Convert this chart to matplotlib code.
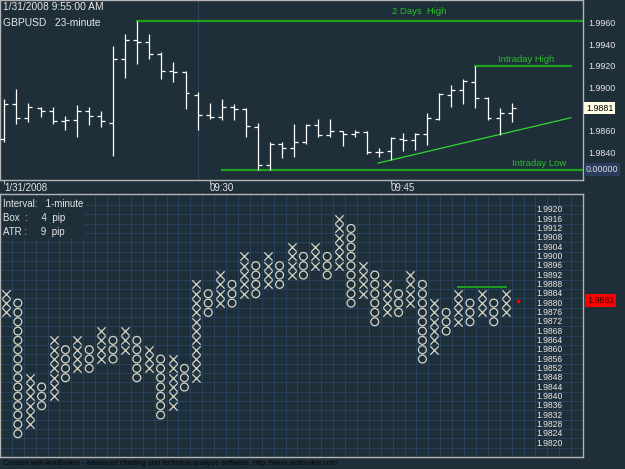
import matplotlib
matplotlib.use("Agg")
import matplotlib.pyplot as plt
import matplotlib.transforms as mtransforms
import numpy as np

plt.rcParams['font.family'] = ['Liberation Sans', 'DejaVu Sans']

# ---- top pane: GBPUSD bars ----
opens  = [1.9852, 1.9885, 1.9872, 1.9881, 1.9878, 1.9869, 1.9870, 1.9878, 1.9874, 1.9867,
          1.9926, 1.9944, 1.9942, 1.9931, 1.9915, 1.9914, 1.9893, 1.9875, 1.9873, 1.9882,
          1.9880, 1.9863, 1.9828, 1.9848, 1.9844, 1.9850, 1.9865, 1.9856, 1.9860, 1.9857,
          1.9859, 1.9840, 1.9841, 1.9852, 1.9851, 1.9857, 1.9871, 1.9893, 1.9898, 1.9905,
          1.9890, 1.9872, 1.9876]
highs  = [1.9889, 1.9899, 1.9886, 1.9882, 1.9882, 1.9874, 1.9884, 1.9882, 1.9878, 1.9938,
          1.9950, 1.9962, 1.9950, 1.9933, 1.9924, 1.9915, 1.9896, 1.9886, 1.9889, 1.9885,
          1.9881, 1.9867, 1.9850, 1.9850, 1.9866, 1.9866, 1.9871, 1.9871, 1.9860, 1.9861,
          1.9860, 1.9844, 1.9854, 1.9858, 1.9858, 1.9876, 1.9895, 1.9902, 1.9908, 1.9920,
          1.9891, 1.9881, 1.9886]
lows   = [1.9850, 1.9866, 1.9868, 1.9873, 1.9866, 1.9861, 1.9854, 1.9865, 1.9863, 1.9837,
          1.9909, 1.9922, 1.9926, 1.9908, 1.9905, 1.9880, 1.9861, 1.9871, 1.9870, 1.9870,
          1.9854, 1.9824, 1.9824, 1.9835, 1.9836, 1.9848, 1.9854, 1.9854, 1.9846, 1.9854,
          1.9838, 1.9836, 1.9833, 1.9841, 1.9842, 1.9847, 1.9870, 1.9882, 1.9885, 1.9881,
          1.9870, 1.9856, 1.9868]
closes = [1.9885, 1.9872, 1.9882, 1.9878, 1.9869, 1.9870, 1.9878, 1.9874, 1.9869, 1.9926,
          1.9944, 1.9942, 1.9931, 1.9915, 1.9914, 1.9895, 1.9875, 1.9873, 1.9882, 1.9880,
          1.9864, 1.9828, 1.9848, 1.9844, 1.9850, 1.9865, 1.9856, 1.9860, 1.9857, 1.9859,
          1.9840, 1.9840, 1.9853, 1.9851, 1.9857, 1.9872, 1.9894, 1.9898, 1.9906, 1.9890,
          1.9872, 1.9876, 1.9881]

time_ticks = [0, 17, 32]
time_labels = ["1/31/2008", "09:30", "09:45"]
price_ticks = [1.9960, 1.9940, 1.9920, 1.9900, 1.9860, 1.9840]

two_day_high = 1.9962       # from bar 11
intraday_high = 1.9920      # from bar 39
intraday_low = 1.9824       # from bar 18
trend_x = [30.94, 46.9]
trend_y = [1.9830, 1.9872]

# ---- bottom pane: point & figure, 4 pip box ----
box = 0.0004
pf_types = "XOXOXOXOXOXOXOXOXOXOXOXOXOXOXOXOXOXOXOXOXOX"
pf_high = [1.9884, 1.9880, 1.9848, 1.9844, 1.9864, 1.9860, 1.9864, 1.9860, 1.9868, 1.9864,
           1.9868, 1.9864, 1.9860, 1.9856, 1.9856, 1.9852, 1.9888, 1.9884, 1.9892, 1.9888,
           1.9900, 1.9896, 1.9900, 1.9896, 1.9904, 1.9900, 1.9904, 1.9900, 1.9916, 1.9912,
           1.9896, 1.9892, 1.9888, 1.9884, 1.9892, 1.9888, 1.9880, 1.9876, 1.9884, 1.9880,
           1.9884, 1.9880, 1.9884]
pf_low  = [1.9876, 1.9824, 1.9828, 1.9836, 1.9840, 1.9848, 1.9852, 1.9852, 1.9856, 1.9856,
           1.9860, 1.9848, 1.9852, 1.9832, 1.9836, 1.9844, 1.9848, 1.9876, 1.9880, 1.9880,
           1.9884, 1.9884, 1.9888, 1.9888, 1.9892, 1.9892, 1.9896, 1.9892, 1.9896, 1.9880,
           1.9884, 1.9872, 1.9876, 1.9876, 1.9880, 1.9856, 1.9860, 1.9868, 1.9872, 1.9872,
           1.9876, 1.9872, 1.9876]
pf_levels = [1.9920 - box * k for k in range(26)]
pf_resist = 1.9887          # short line over last columns 38..42
last_price = 1.9881

bg = '#1f2f3a'
frame = '#b4b4b4'
txt = '#e6e6e6'
green = '#1fa01f'
W, H = 625, 469

fig = plt.figure(figsize=(W / 100, H / 100), dpi=100, facecolor=bg)

def fx(x):
    return x / W

def fy(y):
    return 1 - y / H

# ---------------- top pane ----------------
ax = fig.add_axes([0, fy(180), fx(583), 180 / H])
ax.set_facecolor(bg)
n = len(closes)
xs = np.arange(n)
ax.set_xlim(-4.3 / 12.08, (583 - 4.3) / 12.08)
ax.set_ylim(1.9960 - (180 - 22.7) / 21.6 * 0.002, 1.9960 + 22.7 / 21.6 * 0.002)

ax.axvline(16, color='#2c4560', lw=0.8, zorder=1)
ax.vlines(xs, lows, highs, color='white', lw=0.9, zorder=3)
ax.hlines(opens, xs - 0.33, xs, color='white', lw=0.9, zorder=3)
ax.hlines(closes, xs, xs + 0.33, color='white', lw=0.9, zorder=3)

ax.plot([11, 48], [two_day_high] * 2, color=green, lw=1.6, zorder=2)
ax.plot([39, 46.9], [intraday_high] * 2, color=green, lw=1.6, zorder=2)
ax.plot([18, 48], [intraday_low] * 2, color=green, lw=1.6, zorder=2)
ax.plot(trend_x, trend_y, color='#2fd82f', lw=0.9, zorder=2)

def bar_x(px):
    return (px - 4.3) / 12.08

ax.text(bar_x(419), 1.99705, "2 Days  High", color='#27c027', fontsize=6.8, ha='center', va='center')
ax.text(bar_x(526), 1.99255, "Intraday High", color='#27c027', fontsize=6.8, ha='center', va='center')
ax.text(bar_x(539), 1.98295, "Intraday Low", color='#27c027', fontsize=6.8, ha='center', va='center')

ax.yaxis.tick_right()
ax.set_yticks(price_ticks)
ax.set_yticklabels(["%.4f" % v for v in price_ticks])
ax.tick_params(axis='y', length=0, pad=4, labelsize=6.4, labelcolor=txt)
ax.set_xticks(time_ticks)
ax.set_xticklabels(time_labels)
ax.tick_params(axis='x', direction='out', length=3, width=0.8, color=frame,
               pad=-1, labelsize=7, labelcolor=txt)
for lab in ax.get_xticklabels():
    lab.set_ha('left')

blend = mtransforms.blended_transform_factory(ax.transAxes, ax.transData)
ax.text(586 / 583, closes[-1], "%.4f" % closes[-1], transform=blend, fontsize=6.4,
        color='black', va='center', ha='left', clip_on=False,
        bbox=dict(boxstyle='square,pad=0.2', fc='#ffffe6', ec='none'))
ax.text(586 / 583, intraday_low, "0.00000", transform=blend, fontsize=6.4,
        color='#dcdcdc', va='center', ha='left', clip_on=False,
        bbox=dict(boxstyle='square,pad=0.2', fc='#2b3d5e', ec='none'))

for s in ax.spines.values():
    s.set_color(frame)
    s.set_linewidth(1)

fig.text(fx(3), fy(7), "1/31/2008 9:55:00 AM", color=txt, fontsize=7.4, va='center')
fig.text(fx(3), fy(23), "GBPUSD   23-minute", color=txt, fontsize=7.4, va='center')

# ---------------- bottom pane ----------------
bx = fig.add_axes([0, fy(457), fx(583), (457 - 194) / H])
bx.set_facecolor(bg)
bx.set_xlim(-3.5 / 12.08, (583 - 3.5) / 12.08)
bx.set_ylim(1.9920 - 26.08 * box, 1.9920 + 1.69 * box)

bx.set_xticks(np.arange(-0.5, 49, 1), minor=True)
bx.set_yticks(np.arange(1.9920 + box / 2, 1.9810, -box), minor=True)
bx.set_xticks([])
bx.set_yticks([])
bx.grid(which='minor', color='#28425e', lw=0.7)
bx.tick_params(which='both', length=0)

mark = '#d6d6c4'
for k, (t, hi, lo) in enumerate(zip(pf_types, pf_high, pf_low)):
    nb = int(round((hi - lo) / box)) + 1
    vals = hi - box * np.arange(nb)
    if t == 'X':
        bx.scatter([k] * nb, vals, marker='x', s=36, color=mark, lw=0.9, zorder=3)
    else:
        bx.scatter([k] * nb, vals, marker='o', s=32, facecolors='none',
                   edgecolors=mark, lw=0.9, zorder=3)

bx.plot([38, 42], [pf_resist] * 2, color=green, lw=1.4, zorder=3)
bx.scatter([43], [last_price], marker='s', s=3, color='red', zorder=3)

bblend = mtransforms.blended_transform_factory(bx.transAxes, bx.transData)
for v in pf_levels:
    bx.text(563 / 583, v, "%.4f" % v, transform=bblend, fontsize=6.2, color=txt,
            ha='right', va='center', zorder=4)
bx.text(587 / 583, last_price, "%.4f" % last_price, transform=bblend, fontsize=6.4,
        color='#3a0000', ha='left', va='center', clip_on=False,
        bbox=dict(boxstyle='square,pad=0.2', fc='#ff0000', ec='none'))

info = "Interval:   1-minute\nBox  :     4  pip\nATR :     9  pip"
bx.text(3 / 583, 1 - (199 - 194) / 263, info, transform=bx.transAxes,
        fontsize=7, color=txt, va='top', ha='left', zorder=2, linespacing=1.5,
        bbox=dict(boxstyle='square,pad=0.2', fc=bg, ec='none'))

for s in bx.spines.values():
    s.set_color(frame)
    s.set_linewidth(1)
    s.set_zorder(6)

fig.text(fx(3), fy(463),
         "Created with AmiBroker - advanced charting and technical analysis software. http://www.amibroker.com",
         color='#050505', fontsize=5.3, va='center')

fig.savefig("out.png", dpi=100, facecolor=bg)
